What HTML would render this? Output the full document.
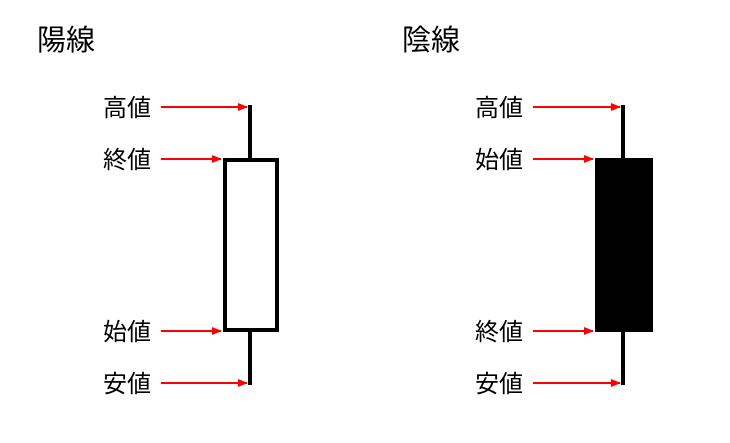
<!DOCTYPE html>
<html><head><meta charset="utf-8"><style>
body{margin:0;background:#fff;width:730px;height:438px;overflow:hidden}
svg text{font-family:"Liberation Sans","Noto Sans CJK JP",sans-serif;fill:#000}
</style></head><body>
<svg width="730" height="438" xmlns="http://www.w3.org/2000/svg">
<defs><marker id="a" markerWidth="10" markerHeight="8" refX="9" refY="4" orient="auto" markerUnits="userSpaceOnUse"><path d="M0,0 L10,4 L0,8 z" fill="#f00"/></marker></defs>
<text x="37" y="50" font-size="29">陽線</text>
<text x="402" y="50" font-size="29">陰線</text>
<g font-size="24">
<text x="103" y="116">高値</text><text x="103" y="168">終値</text><text x="103" y="340">始値</text><text x="103" y="392">安値</text>
<text x="475" y="116">高値</text><text x="475" y="168">始値</text><text x="475" y="340">終値</text><text x="475" y="392">安値</text>
</g>
<g stroke="#f00" stroke-width="2" marker-end="url(#a)">
<line x1="161" y1="107" x2="247" y2="107"/><line x1="161" y1="159" x2="221" y2="159"/><line x1="161" y1="331" x2="221" y2="331"/><line x1="161" y1="383" x2="247" y2="383"/>
<line x1="533" y1="107" x2="620" y2="107"/><line x1="533" y1="159" x2="593" y2="159"/><line x1="533" y1="331" x2="593" y2="331"/><line x1="533" y1="383" x2="620" y2="383"/>
</g>
<line x1="250" y1="105" x2="250" y2="385" stroke="#000" stroke-width="4"/>
<rect x="225" y="160" width="52" height="170" fill="#fff" stroke="#000" stroke-width="4"/>
<line x1="623" y1="105" x2="623" y2="385" stroke="#000" stroke-width="4"/>
<rect x="595" y="158" width="58" height="174" fill="#000"/>
</svg>
</body></html>
